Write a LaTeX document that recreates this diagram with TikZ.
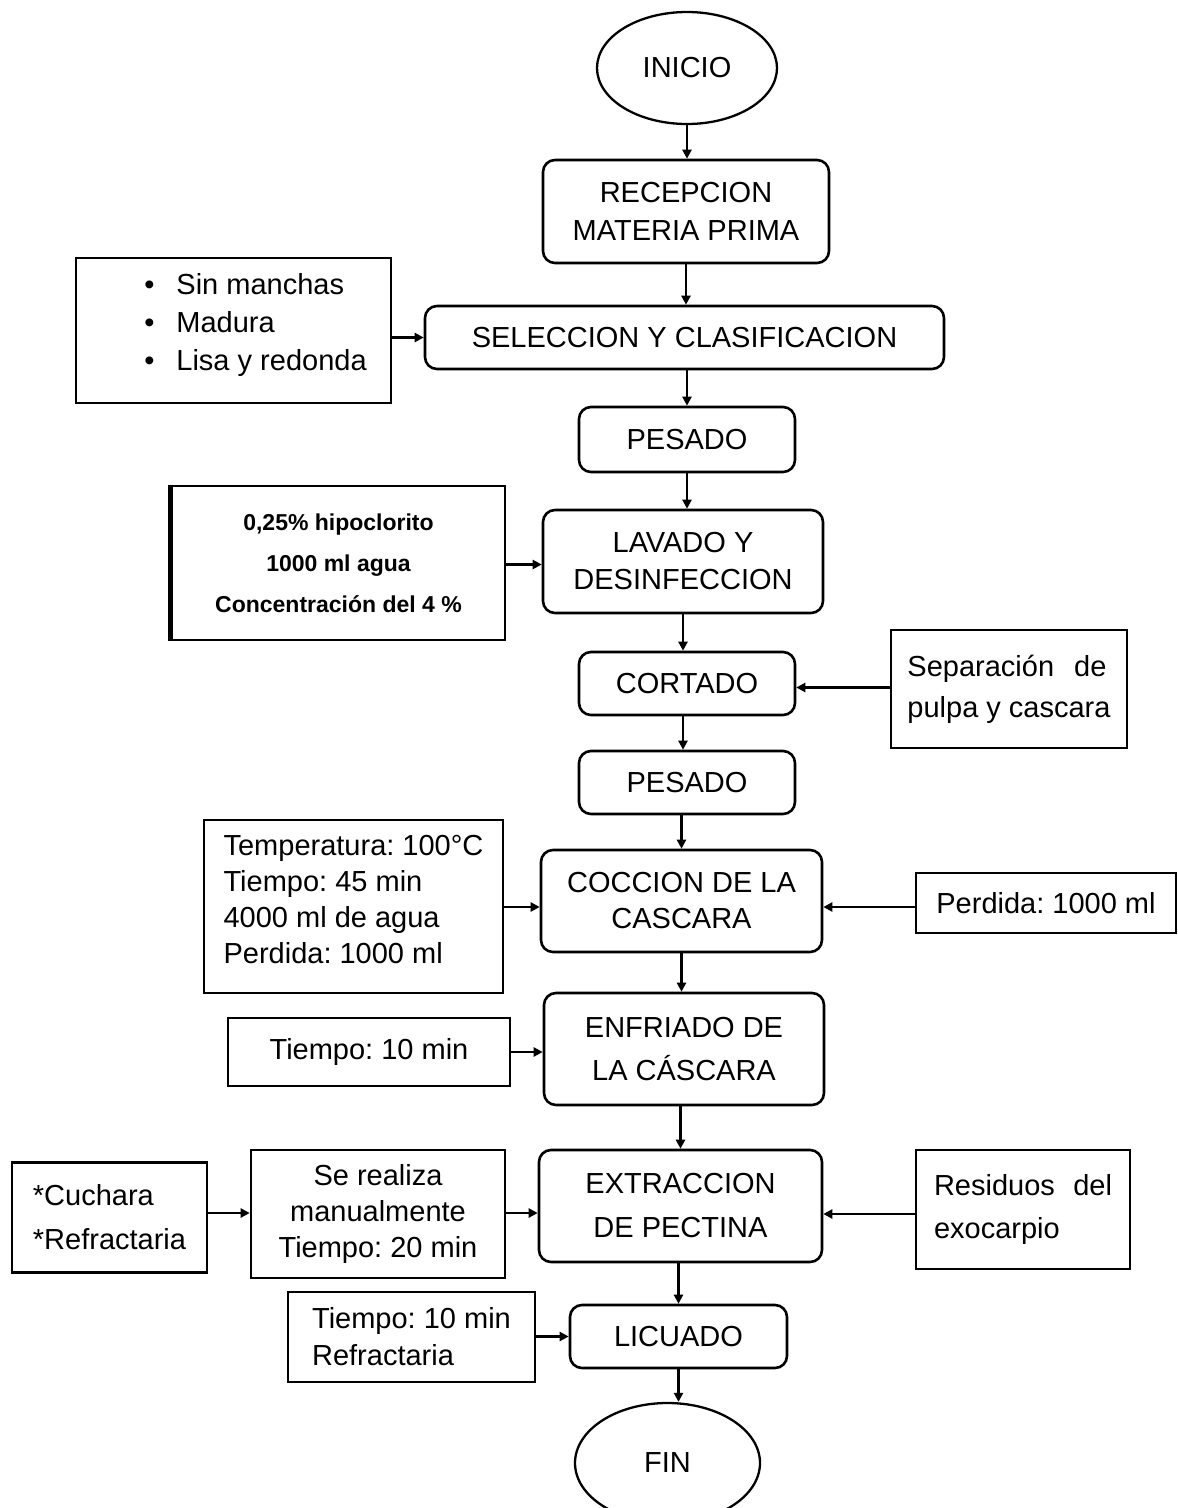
\documentclass[tikz,border=0pt]{standalone}
\usepackage{fontspec}
\setmainfont{Liberation Sans}
\usetikzlibrary{shapes.geometric,arrows.meta,calc}
\frenchspacing
\begin{document}
\begin{tikzpicture}[x=1pt,y=-1pt,
  every node/.style={font=\fontsize{29}{38}\selectfont},
  proc/.style={draw,line width=2.6pt,rounded corners=12pt,align=center,inner sep=0pt},
  info/.style={draw,line width=2.6pt,align=center,inner sep=0pt},
  term/.style={draw,ellipse,line width=2.3pt,inner sep=0pt},
  arr/.style={line width=2.6pt,-{Triangle[length=9pt,width=9pt]}},
]
\useasboundingbox (0,0) rectangle (1178,1508);

% main process column
\node[term,minimum width=180pt,minimum height=112pt] (inicio) at (687,68) {INICIO};
\node[proc,minimum width=286pt,minimum height=103pt] (rec) at (686,211.5) {RECEPCION\\MATERIA PRIMA};
\node[proc,minimum width=519pt,minimum height=63pt] (sel) at (684.5,337.5) {SELECCION Y CLASIFICACION};
\node[proc,minimum width=216pt,minimum height=65pt] (pes1) at (687,439.5) {PESADO};
\node[proc,minimum width=280pt,minimum height=103pt,font=\fontsize{29}{37}\selectfont] (lav) at (683,561.5) {LAVADO Y\\DESINFECCION};
\node[proc,minimum width=216pt,minimum height=63pt] (cort) at (687,683.5) {CORTADO};
\node[proc,minimum width=216pt,minimum height=63pt] (pes2) at (687,782.5) {PESADO};
\node[proc,minimum width=281pt,minimum height=102pt,font=\fontsize{29}{36}\selectfont] (coc) at (681.5,901) {COCCION DE LA\\CASCARA};
\node[proc,minimum width=280pt,minimum height=112pt,font=\fontsize{29}{43}\selectfont] (enf) at (684,1049) {ENFRIADO DE\\LA CÁSCARA};
\node[proc,minimum width=283pt,minimum height=112pt,font=\fontsize{29}{44}\selectfont] (ext) at (680.5,1206) {EXTRACCION\\DE PECTINA};
\node[proc,minimum width=217pt,minimum height=63pt] (lic) at (678.5,1336.5) {LICUADO};
\node[term,minimum width=185pt,minimum height=120pt] (fin) at (667.5,1463) {FIN};

% side information boxes
\node[info,minimum width=315pt,minimum height=145pt,align=left] (crit) at (233.5,330.5)
  {\hspace*{44pt}\textbullet\hspace{22pt}Sin manchas\\\hspace*{44pt}\textbullet\hspace{22pt}Madura\\\hspace*{44pt}\textbullet\hspace{22pt}Lisa y redonda\rule[-17pt]{0pt}{17pt}};
\node[info,minimum width=333pt,minimum height=154pt,font=\fontsize{23}{41}\selectfont\bfseries] (hipo) at (338.5,563)
  {0,25\% hipoclorito\\1000 ml agua\\Concentración del 4 \%};
\draw[line width=4.5pt] (hipo.north west) -- (hipo.south west);
\node[info,minimum width=236pt,minimum height=118pt,font=\fontsize{29}{41}\selectfont,align=left] (sep) at (1009,689)
  {\makebox[199pt][s]{Separación\hfill de}\\pulpa y cascara};
\node[info,minimum width=299pt,minimum height=173pt,font=\fontsize{29}{36}\selectfont,align=left] (temp) at (353.5,906.5)
  {Temperatura: 100°C\\Tiempo: 45 min\\4000 ml de agua\\Perdida: 1000 ml\rule[-15pt]{0pt}{15pt}};
\node[info,minimum width=260pt,minimum height=60pt] (perd) at (1046,903) {Perdida: 1000 ml};
\node[info,minimum width=282pt,minimum height=68pt] (t10) at (369,1052) {Tiempo: 10 min};
\node[info,minimum width=195pt,minimum height=110pt,font=\fontsize{29}{44}\selectfont,align=left] (cuch) at (109.5,1217.5)
  {*Cuchara\\*Refractaria};
\node[info,minimum width=254pt,minimum height=128pt,font=\fontsize{29}{36}\selectfont] (man) at (378,1214)
  {Se realiza\\manualmente\\Tiempo: 20 min};
\node[info,minimum width=214pt,minimum height=119pt,font=\fontsize{29}{43}\selectfont,align=left] (resid) at (1023,1209.5)
  {\makebox[178pt][s]{Residuos\hfill del}\\exocarpio};
\node[info,minimum width=247pt,minimum height=90pt,font=\fontsize{29}{37}\selectfont,align=left] (t10r) at (411.5,1337)
  {Tiempo: 10 min\\Refractaria};

% vertical flow
\draw[arr] (inicio.south) -- (inicio.south |- rec.north);
\draw[arr] (rec.south) -- (rec.south |- sel.north);
\draw[arr] (pes1.north |- sel.south) -- (pes1.north);
\draw[arr] (pes1.south) -- (pes1.south |- lav.north);
\draw[arr] (lav.south) -- (lav.south |- cort.north);
\draw[arr] (lav.south |- cort.south) -- (lav.south |- pes2.north);
\draw[arr] (coc.north |- pes2.south) -- (coc.north);
\draw[arr] (coc.south) -- (coc.south |- enf.north);
\draw[arr] (ext.north |- enf.south) -- (ext.north);
\draw[arr] (lic.north |- ext.south) -- (lic.north);
\draw[arr] (lic.south) -- (lic.south |- fin.north);

% side inputs
\coordinate (lavL) at ($(lav.west)+(0,3)$);
\coordinate (cortR) at ($(cort.east)+(0,4)$);
\coordinate (cocL) at ($(coc.west)+(0,6)$);
\coordinate (cocR) at ($(coc.east)+(0,6)$);
\coordinate (extL) at ($(ext.west)+(0,7)$);
\coordinate (extR) at ($(ext.east)+(0,8)$);
\draw[arr] (crit.east |- sel.west) -- (sel.west);
\draw[arr] (hipo.east |- lavL) -- (lavL);
\draw[arr] (sep.west |- cortR) -- (cortR);
\draw[arr] (temp.east |- cocL) -- (cocL);
\draw[arr] (perd.west |- cocR) -- (cocR);
\draw[arr] (t10.east) -- (t10.east -| enf.west);
\draw[arr] (cuch.east |- extL) -- (man.west |- extL);
\draw[arr] (man.east |- extL) -- (extL);
\draw[arr] (resid.west |- extR) -- (extR);
\draw[arr] (t10r.east |- lic.west) -- (lic.west);
\end{tikzpicture}
\end{document}
